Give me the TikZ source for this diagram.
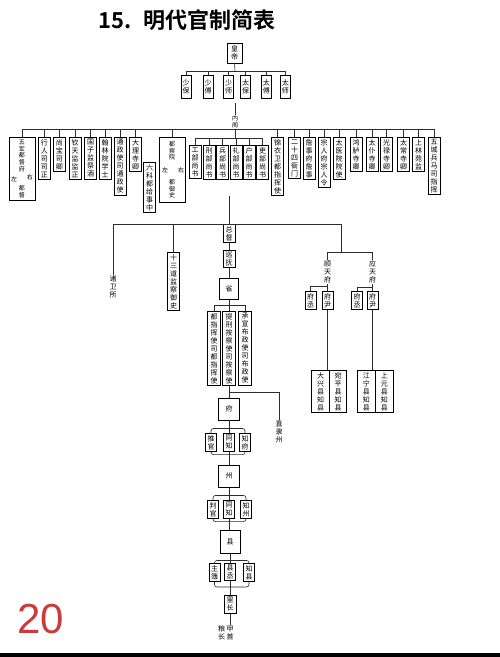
\documentclass[tikz,border=0pt]{standalone}
\usepackage{fontspec}
\usepackage{xcolor}
\usetikzlibrary{positioning,calc}
\newfontfamily\cjk{Noto Sans CJK SC}[BoldFont={Noto Sans CJK SC Bold}]
\newfontfamily\numfont{Liberation Sans}
\definecolor{PageRed}{RGB}{204,58,58}
\definecolor{LineGray}{RGB}{45,45,45}
\tikzset{
  offbox/.style = {draw, line width=0.9pt, fill=white, inner xsep=1.2pt,
                   inner ysep=1.8pt, minimum width=12pt, align=center,
                   font=\cjk\fontsize{7}{8}\selectfont},
  bigbox/.style = {draw, line width=0.9pt, fill=white, minimum width=21pt,
                   minimum height=22pt, font=\cjk\fontsize{7}{8}\selectfont},
  lbl/.style    = {inner sep=0.5pt, align=center,
                   font=\cjk\fontsize{7}{8}\selectfont},
  tinylbl/.style= {inner sep=0.3pt, align=center,
                   font=\cjk\fontsize{6}{6.6}\selectfont},
  conn/.style   = {line width=0.6pt, LineGray},
  brk/.style    = {conn, rounded corners=2.5pt}
}

\begin{document}
\begin{tikzpicture}[x=1pt,y=-1pt]
\useasboundingbox (0,0) rectangle (500,657);
\fill[white] (0,0) rectangle (500,657);
\node[font=\cjk\bfseries\fontsize{22}{24}\selectfont] (title) at (187,20) {15.\hspace{0.5em}明代官制简表};

% emperor and the six top ranks
\node[offbox, minimum width=15pt, minimum height=20pt] (huangdi) at (234.5,53) {皇\\帝};
\node[offbox, minimum width=10pt, minimum height=23pt, anchor=north] (shaobao) at (186,75) {少\\保};
\node[offbox, minimum width=10pt, minimum height=23pt, anchor=north] (shaofu) at (208,75) {少\\傅};
\node[offbox, minimum width=10pt, minimum height=23pt, anchor=north] (shaoshi) at (228.7,75) {少\\师};
\node[offbox, minimum width=10pt, minimum height=23pt, anchor=north] (taibao) at (245.5,75) {太\\保};
\node[offbox, minimum width=10pt, minimum height=23pt, anchor=north] (taifu) at (266.3,75) {太\\傅};
\node[offbox, minimum width=10pt, minimum height=23pt, anchor=north] (taishi) at (285.3,75) {太\\师};
\coordinate (hbar) at (235,71);
\coordinate (gong) at (235,103);
\node[tinylbl] (neige) at (235,122) {内\\阁};
\coordinate (nbar) at (235,129.5);
\coordinate (bbar) at (235,138);

% central offices
\node[offbox, minimum width=26pt, minimum height=63pt, anchor=north] (wujun) at (22,137) {};
\node[tinylbl] (wjname) at (22,156) {五\\军\\都\\督\\府};
\node[tinylbl] (wjzuo) at (14,179) {左};
\node[tinylbl] (wjyou) at (30,177) {右};
\node[tinylbl] (wjdudu) at (22,192) {都\\督};
\node[offbox, anchor=north] (xingren) at (44.5,137) {行\\人\\司\\司\\正};
\node[offbox, anchor=north] (shangbao) at (59.5,137) {尚\\宝\\司\\卿};
\node[offbox, anchor=north] (qintian) at (75,137) {钦\\天\\监\\监\\正};
\node[offbox, anchor=north] (guozi) at (90.5,137) {国\\子\\监\\祭\\酒};
\node[offbox, anchor=north] (hanlin) at (105,137) {翰\\林\\院\\学\\士};
\node[offbox, anchor=north] (tongzheng) at (120,137) {通\\政\\使\\司\\通\\政\\使};
\node[offbox, anchor=north] (dali) at (135.5,137) {大\\理\\寺\\卿};
\node[offbox, anchor=north] (liuke) at (149.5,162) {六\\科\\都\\给\\事\\中};
\node[offbox, minimum width=26pt, minimum height=65pt, anchor=north] (duchayuan) at (172,137) {};
\node[tinylbl] (dcyname) at (172,151) {都\\察\\院};
\node[tinylbl] (dcyzuo) at (165,170) {左};
\node[tinylbl] (dcyyou) at (181,170) {右};
\node[tinylbl] (dcydys) at (172,189) {都\\御\\史};
\node[offbox, anchor=north] (gongbu) at (195,145) {工\\部\\尚\\书};
\node[offbox, anchor=north] (xingbu) at (209,145) {刑\\部\\尚\\书};
\node[offbox, anchor=north] (bingbu) at (222.5,145) {兵\\部\\尚\\书};
\node[offbox, anchor=north] (libuli) at (236,145) {礼\\部\\尚\\书};
\node[offbox, anchor=north] (hubu) at (249,145) {户\\部\\尚\\书};
\node[offbox, anchor=north] (libuguan) at (262.5,145) {吏\\部\\尚\\书};
\node[offbox, anchor=north] (jinyi) at (277.5,137) {锦\\衣\\卫\\都\\指\\挥\\使};
\node[offbox, anchor=north] (yamen) at (294.5,137) {二\\十\\四\\衙\\门};
\node[offbox, anchor=north] (zhanshi) at (309,137) {詹\\事\\府\\詹\\事};
\node[offbox, anchor=north] (zongren) at (324,137) {宗\\人\\府\\宗\\人\\令};
\node[offbox, anchor=north] (taiyi) at (339,137) {太\\医\\院\\院\\使};
\node[offbox, anchor=north] (honglu) at (356,137) {鸿\\胪\\寺\\卿};
\node[offbox, anchor=north] (taipu) at (372,137) {太\\仆\\寺\\卿};
\node[offbox, anchor=north] (guanglu) at (386.5,137) {光\\禄\\寺\\卿};
\node[offbox, anchor=north] (taichang) at (403.5,137) {太\\常\\寺\\卿};
\node[offbox, anchor=north] (shanglin) at (418.5,137) {上\\林\\苑\\监};
\node[offbox, anchor=north] (wucheng) at (434,137) {五\\城\\兵\\马\\司\\指\\挥};
\coordinate (buxia) at (229,196);

% local offices
\node[lbl, anchor=north] (zhuwei) at (113,275) {诸\\卫\\所};
\node[offbox, anchor=north] (shisan) at (173.5,252) {十\\三\\道\\监\\察\\御\\史};
\node[offbox, anchor=north] (zongdu) at (229,224) {总\\督};
\node[offbox, below=6.6pt of zongdu] (xunfu) {巡\\抚};
\node[bigbox, minimum width=19pt, minimum height=21pt, below=9.6pt of xunfu] (sheng) {省};
\node[offbox, minimum width=13pt, anchor=north] (duzhihui) at (214,311) {都\\指\\挥\\使\\司\\都\\指\\挥\\使};
\node[offbox, minimum width=13pt, anchor=north] (tixing) at (229,311) {提\\刑\\按\\察\\使\\司\\按\\察\\使};
\node[offbox, minimum width=13pt, anchor=north] (chengxuan) at (245,311) {承\\宣\\布\\政\\使\\司\\布\\政\\使};
\coordinate (sbar) at (229,305);
\coordinate (zlj) at (229,392);
\node[lbl, anchor=north] (zhili) at (279,420) {直\\隶\\州};
\node[bigbox] (fu) at (229,409) {府};
\node[offbox, minimum width=11pt, anchor=north] (tuiguan) at (211,433) {推\\官};
\node[offbox, minimum width=11pt, anchor=north] (futongzhi) at (229,433) {同\\知};
\node[offbox, minimum width=11pt, anchor=north] (zhifu) at (245,433) {知\\府};
\node[bigbox] (zhou) at (229,476) {州};
\node[offbox, minimum width=11pt, anchor=north] (panguan) at (213,500) {判\\官};
\node[offbox, minimum width=11pt, anchor=north] (zhoutongzhi) at (229,500) {同\\知};
\node[offbox, minimum width=11pt, anchor=north] (zhizhou) at (246,500) {知\\州};
\node[bigbox, minimum width=20pt, minimum height=23pt] (xian) at (230,541.5) {县};
\node[offbox, minimum width=11pt, anchor=north] (zhubu) at (214.5,563) {主\\簿};
\node[offbox, minimum width=11pt, anchor=north] (xiancheng) at (230,563) {县\\丞};
\node[offbox, minimum width=11pt, anchor=north] (zhixian) at (249,563) {知\\县};
\node[offbox, anchor=north] (lizhang) at (230,595) {里\\长};
\node[lbl, anchor=north] (liangzhang) at (221.5,625) {粮\\长};
\node[lbl, anchor=north] (jiashou) at (230,625) {甲\\首};

% capital prefectures
\coordinate (jingfu) at (341,252);
\node[lbl, anchor=north] (shuntian) at (327.5,260) {顺\\天\\府};
\node[lbl, anchor=north] (yingtian) at (372.5,260) {应\\天\\府};
\node[offbox, minimum width=11pt, anchor=north] (stfucheng) at (310.5,291) {府\\丞};
\node[offbox, minimum width=11pt, anchor=north] (stfuyin) at (327.5,291) {府\\尹};
\node[offbox, minimum width=11pt, anchor=north] (ytfucheng) at (357,291) {府\\丞};
\node[offbox, minimum width=11pt, anchor=north] (ytfuyin) at (372.5,291) {府\\尹};
\node[offbox, minimum width=17.5pt, anchor=north] (daxing) at (320.5,370) {大\\兴\\县\\知\\县};
\node[offbox, minimum width=17.5pt, anchor=north] (wanping) at (338,370) {宛\\平\\县\\知\\县};
\node[offbox, minimum width=18pt, anchor=north] (jiangning) at (366.3,370) {江\\宁\\县\\知\\县};
\node[offbox, minimum width=18pt, anchor=north] (shangyuan) at (384.3,370) {上\\元\\县\\知\\县};

% connectors
\draw[conn] (huangdi.south) -- (hbar);
\foreach \n in {shaobao,shaofu,shaoshi,taibao,taifu,taishi}
  \draw[conn] (\n.north) |- (hbar);
\draw[conn] (gong) -- (neige.north);
\draw[conn] (neige.south) -- (bbar);
\foreach \n in {wujun,xingren,shangbao,qintian,guozi,hanlin,tongzheng,dali,
                duchayuan,jinyi,yamen,zhanshi,zongren,taiyi,honglu,taipu,
                guanglu,taichang,shanglin,wucheng}
  \draw[conn] (\n.north) |- (nbar);
\foreach \n in {gongbu,xingbu,bingbu,libuli,hubu,libuguan}
  \draw[conn] (\n.north) |- (bbar);
\draw[conn] (buxia) -- (zongdu.north);
\draw[conn] (zhuwei.north) |- (zongdu.north);
\draw[conn] (shisan.north) |- (zongdu.north);
\draw[conn] (zongdu.north) -| (jingfu);
\draw[conn] (shuntian.north) |- (jingfu);
\draw[conn] (yingtian.north) |- (jingfu);
\draw[conn] (zongdu) -- (xunfu);
\draw[conn] (xunfu) -- (sheng);
\draw[conn] (sheng.south) -- (sbar);
\foreach \n in {duzhihui,tixing,chengxuan}
  \draw[conn] (\n.north) |- (sbar);
\draw[conn] (tixing.south) -- (fu.north);
\draw[conn] (zhili.north) |- (zlj);

\draw[conn] (fu.south) -- ++(0,8) coordinate (fuj);
\draw[brk] (tuiguan.north) |- (fuj) -| (zhifu.north);
\draw[conn] (futongzhi.north) -- (futongzhi.north |- fuj);
\path (zhou.north) ++(0,-10) coordinate (zhouj);
\draw[brk] (tuiguan.south) |- (zhouj) -| (zhifu.south);
\draw[conn] (futongzhi.south) -- (zhou.north);

\draw[conn] (zhou.south) -- ++(0,8) coordinate (zhoub);
\draw[brk] (panguan.north) |- (zhoub) -| (zhizhou.north);
\draw[conn] (zhoutongzhi.north) -- (zhoutongzhi.north |- zhoub);
\path (xian.north) ++(0,-8) coordinate (xianj);
\draw[brk] (panguan.south) |- (xianj) -| (zhizhou.south);
\draw[conn] (zhoutongzhi.south) -- (zhoutongzhi.south |- xian.north);

\draw[conn] (xian.south) -- ++(0,7) coordinate (xianb);
\draw[brk] (zhubu.north) |- (xianb) -| (zhixian.north);
\draw[conn] (xiancheng.north) -- (xiancheng.north |- xianb);
\path (lizhang.north) ++(0,-8) coordinate (lij);
\draw[brk] (zhubu.south) |- (lij) -| (zhixian.south);
\draw[conn] (xiancheng.south) -- (lizhang.north);
\draw[conn] (lizhang.south) -- (jiashou.north);

\draw[conn] (shuntian.south) -- (stfuyin.north);
\path (shuntian.south) ++(0,3) coordinate (stj);
\draw[conn] (stfucheng.north) |- (stj);
\draw[conn] (yingtian.south) -- (ytfuyin.north);
\path (yingtian.south) ++(0,3) coordinate (ytj);
\draw[conn] (ytfucheng.north) |- (ytj);
\draw[conn] (stfuyin.south) -- (stfuyin.south |- daxing.north);
\draw[conn] (ytfuyin.south) -- (ytfuyin.south |- jiangning.north);

\node[font=\numfont\fontsize{42}{44}\selectfont, text=PageRed, inner sep=0pt] (pageno) at (40.5,619) {20};
\fill[black] (0,653) rectangle (500,657);
\end{tikzpicture}
\end{document}
